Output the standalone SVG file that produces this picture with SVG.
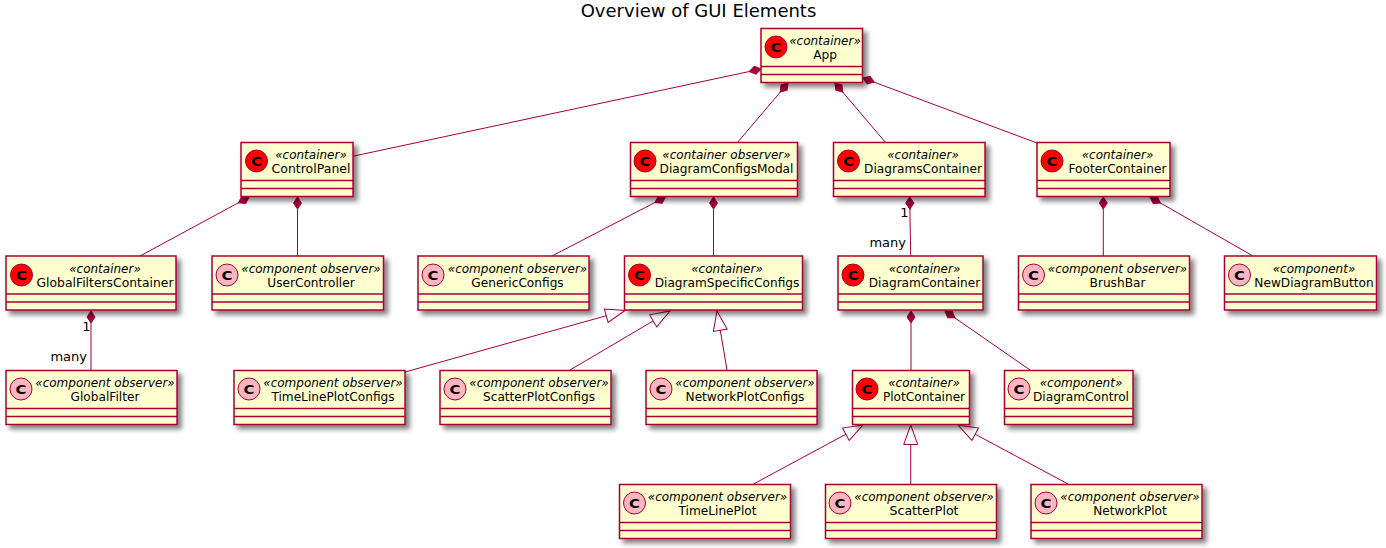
<svg xmlns="http://www.w3.org/2000/svg" width="1386" height="548" viewBox="0 0 1386 548">
<style>
text{font-family:"DejaVu Sans",sans-serif;fill:#000}
.title{font-size:18px;text-anchor:middle}
.n{font-size:12.15px;text-anchor:middle}
.s{font-size:12px;font-style:italic;text-anchor:middle}
.c{font-size:12.5px;font-weight:bold;text-anchor:middle}
.l{font-size:13px;text-anchor:end}
.box{fill:#FEFECE;stroke:#A80036;stroke-width:1.5;filter:url(#sh)}
.d{stroke:#A80036;stroke-width:1.5;fill:none}
.cr{fill:#FF0000;stroke:#A80036}
.cp{fill:#FFB6C1;stroke:#A80036}
.e{stroke:#A80036;stroke-width:1;fill:none}
.comp{marker-start:url(#dia)}
.ext{marker-start:url(#tri)}
</style>
<defs>
<filter id="sh" x="-10%" y="-20%" width="125%" height="150%"><feDropShadow dx="4" dy="4" stdDeviation="2.5" flood-color="#000" flood-opacity="0.5"/></filter>
<marker id="dia" markerUnits="userSpaceOnUse" markerWidth="16" markerHeight="12" refX="1" refY="5" orient="auto"><polygon points="1,5 7,1 13,5 7,9" fill="#A80036" stroke="#A80036"/></marker>
<marker id="tri" markerUnits="userSpaceOnUse" markerWidth="22" markerHeight="18" refX="1" refY="8" orient="auto"><polygon points="1,8 20.500,1 20.500,15" fill="#fff" stroke="#A80036"/></marker>
</defs>
<text class="title" x="698.500" y="16.500">Overview of GUI Elements</text>
<g id="connectors" class="e">
<line class="comp" x1="761" y1="69" x2="354" y2="156"/>
<line class="comp" x1="788" y1="83" x2="737" y2="143"/>
<line class="comp" x1="835" y1="83" x2="886" y2="143"/>
<line class="comp" x1="863" y1="78" x2="1037" y2="143"/>
<line class="comp" x1="249" y1="197" x2="140" y2="256"/>
<line class="comp" x1="297.500" y1="197" x2="297.500" y2="256"/>
<line class="comp" x1="665.500" y1="197" x2="552" y2="256"/>
<line class="comp" x1="713.500" y1="197" x2="713.500" y2="256"/>
<line class="comp" x1="909.700" y1="197" x2="910.700" y2="256"/>
<line class="comp" x1="1103.300" y1="197" x2="1103.300" y2="256"/>
<line class="comp" x1="1150" y1="197" x2="1253" y2="256"/>
<line class="comp" x1="91" y1="311" x2="91" y2="370"/>
<line class="comp" x1="911" y1="311" x2="911" y2="370"/>
<line class="comp" x1="945" y1="311" x2="1030" y2="370"/>
<line class="ext" x1="625" y1="310.500" x2="405" y2="372"/>
<line class="ext" x1="670" y1="311" x2="570" y2="370"/>
<line class="ext" x1="717" y1="311" x2="727" y2="370"/>
<line class="ext" x1="863" y1="425" x2="753.500" y2="484"/>
<line class="ext" x1="910.700" y1="425" x2="910.700" y2="484"/>
<line class="ext" x1="958" y1="425" x2="1068" y2="484"/>
</g>
<g id="connector-labels">
<text class="l" x="90.500" y="331">1</text><text class="l" x="87" y="360.500">many</text>
<text class="l" x="908.500" y="217">1</text><text class="l" x="906" y="247">many</text>
</g>
<g id="App"><rect class="box" x="761" y="28.500" width="101.500" height="54"/><path class="d" d="M761 66.500h101.500M761 74.500h101.500"/><circle class="cr" cx="776" cy="47" r="11"/><text class="c" x="776" y="51.500" textLength="11" lengthAdjust="spacingAndGlyphs">C</text><text class="s" x="825" y="45">«container»</text><text class="n" x="825" y="59">App</text></g>
<g id="ControlPanel"><rect class="box" x="241" y="142.500" width="112" height="54"/><path class="d" d="M241 180.500h112M241 188.500h112"/><circle class="cr" cx="256.500" cy="161" r="11"/><text class="c" x="256.500" y="165.500" textLength="11" lengthAdjust="spacingAndGlyphs">C</text><text class="s" x="311" y="159">«container»</text><text class="n" x="311" y="173" textLength="79" lengthAdjust="spacingAndGlyphs">ControlPanel</text></g>
<g id="DiagramConfigsModal"><rect class="box" x="630.500" y="142.500" width="167" height="54"/><path class="d" d="M630.500 180.500h167M630.500 188.500h167"/><circle class="cr" cx="645" cy="161" r="11"/><text class="c" x="645" y="165.500" textLength="11" lengthAdjust="spacingAndGlyphs">C</text><text class="s" x="726.500" y="159">«container observer»</text><text class="n" x="726.500" y="173">DiagramConfigsModal</text></g>
<g id="DiagramsContainer"><rect class="box" x="833.500" y="142.500" width="151.500" height="54"/><path class="d" d="M833.500 180.500h151.500M833.500 188.500h151.500"/><circle class="cr" cx="848.500" cy="161" r="11"/><text class="c" x="848.500" y="165.500" textLength="11" lengthAdjust="spacingAndGlyphs">C</text><text class="s" x="923" y="159">«container»</text><text class="n" x="923" y="173">DiagramsContainer</text></g>
<g id="FooterContainer"><rect class="box" x="1037" y="142.500" width="133" height="54"/><path class="d" d="M1037 180.500h133M1037 188.500h133"/><circle class="cr" cx="1052" cy="161" r="11"/><text class="c" x="1052" y="165.500" textLength="11" lengthAdjust="spacingAndGlyphs">C</text><text class="s" x="1117.500" y="159">«container»</text><text class="n" x="1117.500" y="173">FooterContainer</text></g>
<g id="GlobalFiltersContainer"><rect class="box" x="6" y="256" width="170" height="54"/><path class="d" d="M6 294h170M6 302h170"/><circle class="cr" cx="21.500" cy="275" r="11"/><text class="c" x="21.500" y="279.500" textLength="11" lengthAdjust="spacingAndGlyphs">C</text><text class="s" x="105" y="273">«container»</text><text class="n" x="105" y="287" textLength="137" lengthAdjust="spacingAndGlyphs">GlobalFiltersContainer</text></g>
<g id="UserController"><rect class="box" x="212" y="256" width="171.500" height="54"/><path class="d" d="M212 294h171.500M212 302h171.500"/><circle class="cp" cx="227" cy="275" r="11"/><text class="c" x="227" y="279.500" textLength="11" lengthAdjust="spacingAndGlyphs">C</text><text class="s" x="311" y="273">«component observer»</text><text class="n" x="311" y="287">UserController</text></g>
<g id="GenericConfigs"><rect class="box" x="418" y="256" width="171" height="54"/><path class="d" d="M418 294h171M418 302h171"/><circle class="cp" cx="433" cy="275" r="11"/><text class="c" x="433" y="279.500" textLength="11" lengthAdjust="spacingAndGlyphs">C</text><text class="s" x="517.500" y="273">«component observer»</text><text class="n" x="517.500" y="287">GenericConfigs</text></g>
<g id="DiagramSpecificConfigs"><rect class="box" x="624.500" y="256" width="178" height="54"/><path class="d" d="M624.500 294h178M624.500 302h178"/><circle class="cr" cx="639.500" cy="275" r="11"/><text class="c" x="639.500" y="279.500" textLength="11" lengthAdjust="spacingAndGlyphs">C</text><text class="s" x="727" y="273">«container»</text><text class="n" x="727" y="287">DiagramSpecificConfigs</text></g>
<g id="DiagramContainer"><rect class="box" x="838" y="256" width="145" height="54"/><path class="d" d="M838 294h145M838 302h145"/><circle class="cr" cx="853" cy="275" r="11"/><text class="c" x="853" y="279.500" textLength="11" lengthAdjust="spacingAndGlyphs">C</text><text class="s" x="924.500" y="273">«container»</text><text class="n" x="924.500" y="287">DiagramContainer</text></g>
<g id="BrushBar"><rect class="box" x="1018.500" y="256" width="171" height="54"/><path class="d" d="M1018.500 294h171M1018.500 302h171"/><circle class="cp" cx="1033.500" cy="275" r="11"/><text class="c" x="1033.500" y="279.500" textLength="11" lengthAdjust="spacingAndGlyphs">C</text><text class="s" x="1117.500" y="273">«component observer»</text><text class="n" x="1117.500" y="287">BrushBar</text></g>
<g id="NewDiagramButton"><rect class="box" x="1224.500" y="256" width="152" height="54"/><path class="d" d="M1224.500 294h152M1224.500 302h152"/><circle class="cp" cx="1239.500" cy="275" r="11"/><text class="c" x="1239.500" y="279.500" textLength="11" lengthAdjust="spacingAndGlyphs">C</text><text class="s" x="1314" y="273">«component»</text><text class="n" x="1314" y="287">NewDiagramButton</text></g>
<g id="GlobalFilter"><rect class="box" x="6" y="370.500" width="171" height="54"/><path class="d" d="M6 408.500h171M6 416.500h171"/><circle class="cp" cx="21" cy="389" r="11"/><text class="c" x="21" y="393.500" textLength="11" lengthAdjust="spacingAndGlyphs">C</text><text class="s" x="105" y="387">«component observer»</text><text class="n" x="105" y="401">GlobalFilter</text></g>
<g id="TimeLinePlotConfigs"><rect class="box" x="234" y="370.500" width="171" height="54"/><path class="d" d="M234 408.500h171M234 416.500h171"/><circle class="cp" cx="249" cy="389" r="11"/><text class="c" x="249" y="393.500" textLength="11" lengthAdjust="spacingAndGlyphs">C</text><text class="s" x="333" y="387">«component observer»</text><text class="n" x="333" y="401">TimeLinePlotConfigs</text></g>
<g id="ScatterPlotConfigs"><rect class="box" x="440" y="370.500" width="171" height="54"/><path class="d" d="M440 408.500h171M440 416.500h171"/><circle class="cp" cx="455" cy="389" r="11"/><text class="c" x="455" y="393.500" textLength="11" lengthAdjust="spacingAndGlyphs">C</text><text class="s" x="539" y="387">«component observer»</text><text class="n" x="539" y="401">ScatterPlotConfigs</text></g>
<g id="NetworkPlotConfigs"><rect class="box" x="646" y="370.500" width="171" height="54"/><path class="d" d="M646 408.500h171M646 416.500h171"/><circle class="cp" cx="661" cy="389" r="11"/><text class="c" x="661" y="393.500" textLength="11" lengthAdjust="spacingAndGlyphs">C</text><text class="s" x="745" y="387">«component observer»</text><text class="n" x="745" y="401">NetworkPlotConfigs</text></g>
<g id="PlotContainer"><rect class="box" x="852.500" y="370.500" width="117" height="54"/><path class="d" d="M852.500 408.500h117M852.500 416.500h117"/><circle class="cr" cx="867" cy="389" r="11"/><text class="c" x="867" y="393.500" textLength="11" lengthAdjust="spacingAndGlyphs">C</text><text class="s" x="924" y="387">«container»</text><text class="n" x="924" y="401">PlotContainer</text></g>
<g id="DiagramControl"><rect class="box" x="1004.500" y="370.500" width="128.500" height="54"/><path class="d" d="M1004.500 408.500h128.500M1004.500 416.500h128.500"/><circle class="cp" cx="1019" cy="389" r="11"/><text class="c" x="1019" y="393.500" textLength="11" lengthAdjust="spacingAndGlyphs">C</text><text class="s" x="1081" y="387">«component»</text><text class="n" x="1081" y="401">DiagramControl</text></g>
<g id="TimeLinePlot"><rect class="box" x="619.500" y="484.500" width="171" height="54"/><path class="d" d="M619.500 522.500h171M619.500 530.500h171"/><circle class="cp" cx="634.500" cy="503" r="11"/><text class="c" x="634.500" y="507.500" textLength="11" lengthAdjust="spacingAndGlyphs">C</text><text class="s" x="717.500" y="501">«component observer»</text><text class="n" x="717.500" y="515">TimeLinePlot</text></g>
<g id="ScatterPlot"><rect class="box" x="825.500" y="484.500" width="171" height="54"/><path class="d" d="M825.500 522.500h171M825.500 530.500h171"/><circle class="cp" cx="840" cy="503" r="11"/><text class="c" x="840" y="507.500" textLength="11" lengthAdjust="spacingAndGlyphs">C</text><text class="s" x="924" y="501">«component observer»</text><text class="n" x="924" y="515" textLength="69" lengthAdjust="spacingAndGlyphs">ScatterPlot</text></g>
<g id="NetworkPlot"><rect class="box" x="1031" y="484.500" width="171" height="54"/><path class="d" d="M1031 522.500h171M1031 530.500h171"/><circle class="cp" cx="1046" cy="503" r="11"/><text class="c" x="1046" y="507.500" textLength="11" lengthAdjust="spacingAndGlyphs">C</text><text class="s" x="1130" y="501">«component observer»</text><text class="n" x="1130" y="515">NetworkPlot</text></g>
</svg>
